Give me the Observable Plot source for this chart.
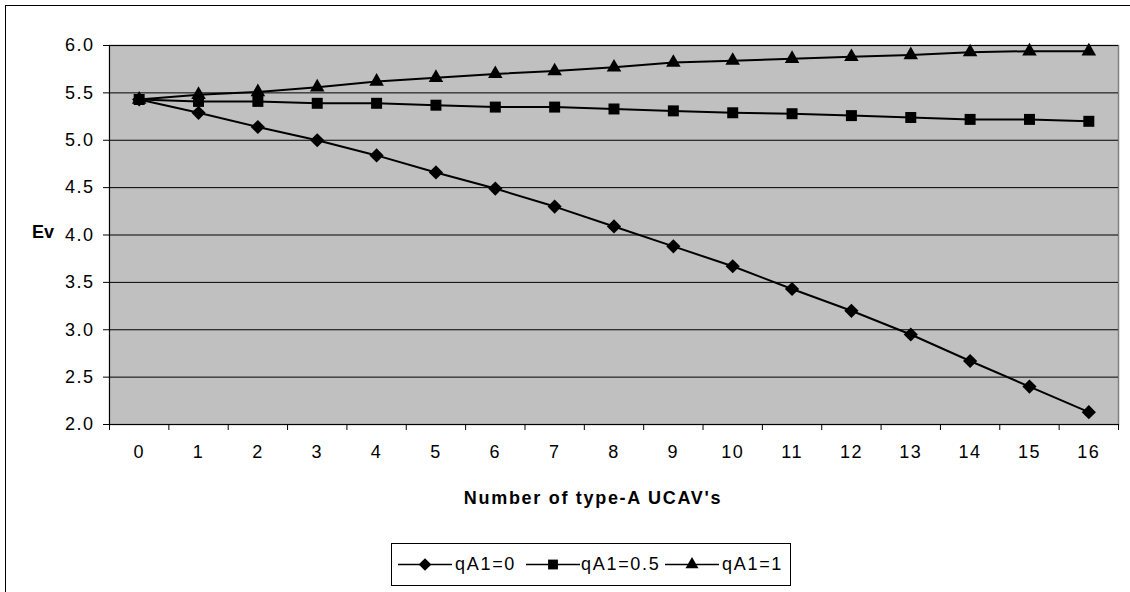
<!DOCTYPE html>
<html>
<head>
<meta charset="utf-8">
<script src="https://cdn.jsdelivr.net/npm/d3@7"></script>
<script src="https://cdn.jsdelivr.net/npm/@observablehq/plot@0.6"></script>
<style>
  html, body { margin: 0; padding: 0; background: #fff; width: 1130px; height: 592px; overflow: hidden; }
  body { font-family: "Liberation Sans", Arial, sans-serif; position: relative; }
  #frame { position: absolute; left: 5px; top: 5px; width: 1200px; height: 700px; border: 1px solid #000; box-sizing: border-box; }
  #chart { position: absolute; left: 0; top: 0; }
  #chart svg text { font-size: 18px !important; font-family: "Liberation Sans", Arial, sans-serif !important; letter-spacing: 1.5px; fill: #000; }
  .lbl { position: absolute; font-weight: bold; color: #000; white-space: nowrap; }
  #ylab { left: 32px; top: 222px; font-size: 18px; }
  #xlab { left: 0; width: 1186px; text-align: center; top: 488px; font-size: 18px; letter-spacing: 1.7px; }
  #legend { position: absolute; left: 391px; top: 543px; width: 400px; height: 43px; border: 1px solid #000; box-sizing: border-box; background: #fff; }
  #legend svg { position: absolute; top: 0; }
  #legend .t { position: absolute; top: 10px; font-size: 18px; letter-spacing: 1.7px; white-space: nowrap; }
</style>
</head>
<body>
<div id="frame"></div>
<div id="chart"></div>
<div class="lbl" id="ylab">Ev</div>
<div class="lbl" id="xlab">Number of type-A UCAV's</div>
<div id="legend"></div>
<script>
// ---- data ----
const numUCAV = [0, 1, 2, 3, 4, 5, 6, 7, 8, 9, 10, 11, 12, 13, 14, 15, 16];
const evQ0   = [5.43, 5.29, 5.14, 5.00, 4.84, 4.66, 4.49, 4.30, 4.09, 3.88, 3.67, 3.43, 3.20, 2.95, 2.67, 2.40, 2.13];
const evQ05  = [5.43, 5.41, 5.41, 5.39, 5.39, 5.37, 5.35, 5.35, 5.33, 5.31, 5.29, 5.28, 5.26, 5.24, 5.22, 5.22, 5.20];
const evQ1   = [5.43, 5.48, 5.51, 5.56, 5.62, 5.66, 5.70, 5.73, 5.77, 5.82, 5.84, 5.86, 5.88, 5.90, 5.93, 5.94, 5.94];
const seriesNames = ["qA1=0", "qA1=0.5", "qA1=1"];
const seriesSymbols = ["diamond2", "square", "triangle"];
const seriesR = [6.4, 6.2, 5.4];
const yTicks = [2.0, 2.5, 3.0, 3.5, 4.0, 4.5, 5.0, 5.5, 6.0];
const xBounds = d3.range(-0.5, 17, 1);

const seriesValues = [evQ0, evQ05, evQ1];
const rows = [];
seriesValues.forEach((vals, s) => numUCAV.forEach((n, i) => rows.push({n, ev: vals[i], s})));

const chart = Plot.plot({
  width: 1130,
  height: 520,
  marginLeft: 109,
  marginRight: 12,
  marginTop: 45,
  marginBottom: 96,
  style: {fontFamily: "'Liberation Sans', Arial, sans-serif", fontSize: "18px", color: "#000", background: "transparent", overflow: "visible"},
  x: {type: "linear", domain: [-0.5, 16.5]},
  y: {domain: [2, 6]},
  marks: [
    Plot.frame({fill: "#c0c0c0", stroke: "#808080", strokeWidth: 1.5}),
    Plot.gridY(yTicks, {stroke: "#000", strokeOpacity: 1, strokeWidth: 1}),
    Plot.ruleX([-0.5], {stroke: "#000", strokeWidth: 1}),
    Plot.ruleY([2], {stroke: "#000", strokeWidth: 1}),
    Plot.axisY({ticks: yTicks, tickFormat: ".1f", tickSize: 6, tickPadding: 9, label: null}),
    Plot.axisX({ticks: xBounds, tickSize: 6, tickFormat: () => "", label: null}),
    Plot.axisX({ticks: numUCAV, tickSize: 0, tickPadding: 21, tickFormat: d => String(d), label: null}),
    ...seriesValues.map((_, s) =>
      Plot.line(rows.filter(d => d.s === s), {x: "n", y: "ev", stroke: "#000", strokeWidth: 2})
    ),
    ...seriesValues.map((_, s) =>
      Plot.dot(rows.filter(d => d.s === s), {x: "n", y: "ev", symbol: () => seriesSymbols[s], r: seriesR[s], fill: "#000", stroke: "none"})
    )
  ]
});
document.getElementById("chart").appendChild(chart);

// ---- legend ----
const legend = d3.select("#legend");
const symMap = {diamond2: d3.symbolDiamond2, square: d3.symbolSquare, triangle: d3.symbolTriangle};
const itemX = [6, 134, 273];   // left of each item's swatch inside the box
const textX = [63, 189, 330];
seriesNames.forEach((name, s) => {
  const svg = legend.append("svg").attr("width", 54).attr("height", 41).style("left", itemX[s] + "px");
  svg.append("line").attr("x1", 0).attr("x2", 54).attr("y1", 20.5).attr("y2", 20.5).attr("stroke", "#000").attr("stroke-width", 1.5);
  svg.append("path")
    .attr("d", d3.symbol(symMap[seriesSymbols[s]], Math.PI * seriesR[s] * seriesR[s] * 0.8)())
    .attr("transform", "translate(27,20.5)")
    .attr("fill", "#000");
  legend.append("div").attr("class", "t").style("left", textX[s] + "px").text(name);
});
</script>
</body>
</html>
